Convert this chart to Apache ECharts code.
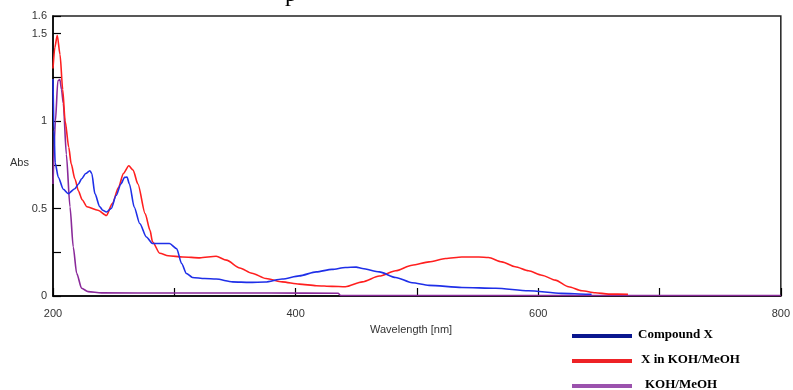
<!DOCTYPE html>
<html>
<head>
<meta charset="utf-8">
<script src="https://cdn.jsdelivr.net/npm/echarts@6/dist/echarts.min.js"></script>
<style>html,body{margin:0;padding:0;background:#fff}#c{width:793px;height:390px}</style>
</head>
<body>
<div id="c"></div>
<script>
var seriesNames = ['Compound X', 'X in KOH/MeOH', 'KOH/MeOH'];
var xTickLabels = ['200', '400', '600', '800'];
var yTickLabels = ['0', '0.5', '1', '1.5', '1.6'];

var wlCompound = [200, 200.8, 201.8, 204.4, 208.5, 212.6, 218, 221, 223.6, 227, 230.4, 232, 234.5, 238.6, 241, 244, 248, 252, 256, 259, 261, 263, 267, 271.5, 277, 282, 288, 296, 302, 306, 310, 315, 325, 334.5, 348, 362, 375, 389, 403, 417, 430, 441, 450, 455, 469, 482.5, 496, 510, 537, 565, 592, 619, 641, 644];
var absCompound = [1.24, 0.95, 0.76, 0.678, 0.61, 0.585, 0.613, 0.64, 0.67, 0.70, 0.716, 0.70, 0.585, 0.51, 0.49, 0.48, 0.50, 0.574, 0.64, 0.678, 0.68, 0.64, 0.507, 0.414, 0.337, 0.30, 0.30, 0.30, 0.27, 0.186, 0.129, 0.106, 0.10, 0.097, 0.081, 0.078, 0.08, 0.097, 0.115, 0.138, 0.152, 0.163, 0.165, 0.157, 0.138, 0.106, 0.076, 0.061, 0.049, 0.044, 0.030, 0.015, 0.01, 0.01];

var wlKoh = [200, 201.5, 203.5, 205.8, 208, 210, 213, 215, 218, 221, 224, 228, 237, 244, 249, 254, 258, 262.5, 266, 270, 276, 280, 282, 288, 295, 307, 321, 334.5, 343, 354, 364, 375.6, 389, 403, 417, 430, 441, 455, 469, 482.5, 496, 510, 523.6, 537, 551, 559, 570, 581, 592, 603, 614, 625, 636, 647, 658, 674];
var absKoh = [1.30, 1.42, 1.49, 1.38, 1.18, 1.0, 0.85, 0.755, 0.67, 0.60, 0.55, 0.51, 0.49, 0.46, 0.53, 0.62, 0.70, 0.744, 0.72, 0.64, 0.47, 0.375, 0.31, 0.244, 0.23, 0.223, 0.218, 0.227, 0.205, 0.16, 0.13, 0.10, 0.081, 0.068, 0.059, 0.055, 0.053, 0.081, 0.114, 0.144, 0.176, 0.195, 0.214, 0.223, 0.223, 0.22, 0.195, 0.167, 0.144, 0.119, 0.091, 0.053, 0.030, 0.019, 0.011, 0.01];

var wlBlank = [200, 202, 204, 205.7, 207, 208.5, 211, 214, 216.7, 219.5, 223.6, 229, 240, 300, 380, 435, 437, 500, 800];
var absBlank = [0.64, 1.0, 1.23, 1.237, 1.18, 1.10, 0.81, 0.51, 0.28, 0.13, 0.044, 0.025, 0.018, 0.017, 0.017, 0.016, 0.003, 0.003, 0.003];

function pairs(xs, ys) { return xs.map(function (x, i) { return [x, ys[i]]; }); }

var lineColors = ['#1f2fe8', '#ff1f1f', '#8a2a9a'];
var legendColors = ['#0a178f', '#ee2226', '#9b52ad'];

var chart = echarts.init(document.getElementById('c'), null, {renderer: 'canvas'});
var data = [pairs(wlCompound, absCompound), pairs(wlKoh, absKoh), pairs(wlBlank, absBlank)];
var series = [];
for (var i = 2; i >= 0; i--) {
  series.push({
    name: seriesNames[i], type: 'line', data: data[i], showSymbol: false, symbol: 'none',
    smooth: 0.25, smoothMonotone: 'x',
    lineStyle: {color: lineColors[i], width: 1.6},
    animation: false, z: 3 + (2 - i)
  });
}

var legendGraphics = [];
var legendTextX = [638, 641, 645];
for (var k = 0; k < 3; k++) {
  var cy = 336 + k * 25;
  legendGraphics.push({type: 'rect', shape: {x: 572, y: cy - 2, width: 60, height: 4}, style: {fill: legendColors[k]}});
  legendGraphics.push({type: 'text', x: legendTextX[k], y: cy - 1.5, style: {text: seriesNames[k], fontFamily: 'Liberation Serif', fontWeight: 'bold', fontSize: 13, fill: '#000', verticalAlign: 'middle'}});
}

chart.setOption({
  animation: false,
  grid: {left: 53, right: 10, top: 16, bottom: 94, show: true, borderColor: '#222', borderWidth: 1.5, backgroundColor: 'transparent'},
  xAxis: {
    type: 'value', min: 200, max: 800, interval: 100,
    axisLine: {show: true, onZero: false, lineStyle: {color: '#000', width: 1.5}},
    axisTick: {show: true, inside: true, length: 8, lineStyle: {color: '#000', width: 1.2}},
    splitLine: {show: false},
    axisLabel: {margin: 12, color: '#333', fontSize: 11, fontFamily: 'Liberation Sans',
      formatter: function (v) { var s = String(v); return xTickLabels.indexOf(s) >= 0 ? s : ''; }}
  },
  yAxis: {
    type: 'value', min: 0, max: 1.6, interval: 0.25,
    axisLine: {show: true, lineStyle: {color: '#000', width: 1.5}},
    axisTick: {show: true, inside: true, length: 8, lineStyle: {color: '#000', width: 1.2}},
    splitLine: {show: false},
    axisLabel: {margin: 6, color: '#333', fontSize: 11, fontFamily: 'Liberation Sans',
      formatter: function (v) { var s = String(Math.round(v * 100) / 100); return yTickLabels.indexOf(s) >= 0 ? s : ''; }}
  },
  graphic: [
    {type: 'text', left: 10, top: 157, style: {text: 'Abs', fontFamily: 'Liberation Sans', fontSize: 11, fill: '#333'}},
    {type: 'text', left: 370, top: 324, style: {text: 'Wavelength [nm]', fontFamily: 'Liberation Sans', fontSize: 11, fill: '#333'}},
    {type: 'text', x: 285, y: 7, style: {text: 'p', fontFamily: 'Liberation Serif', fontSize: 24, fill: '#000', verticalAlign: 'bottom'}}
  ].concat(legendGraphics),
  series: series
});
</script>
</body>
</html>
